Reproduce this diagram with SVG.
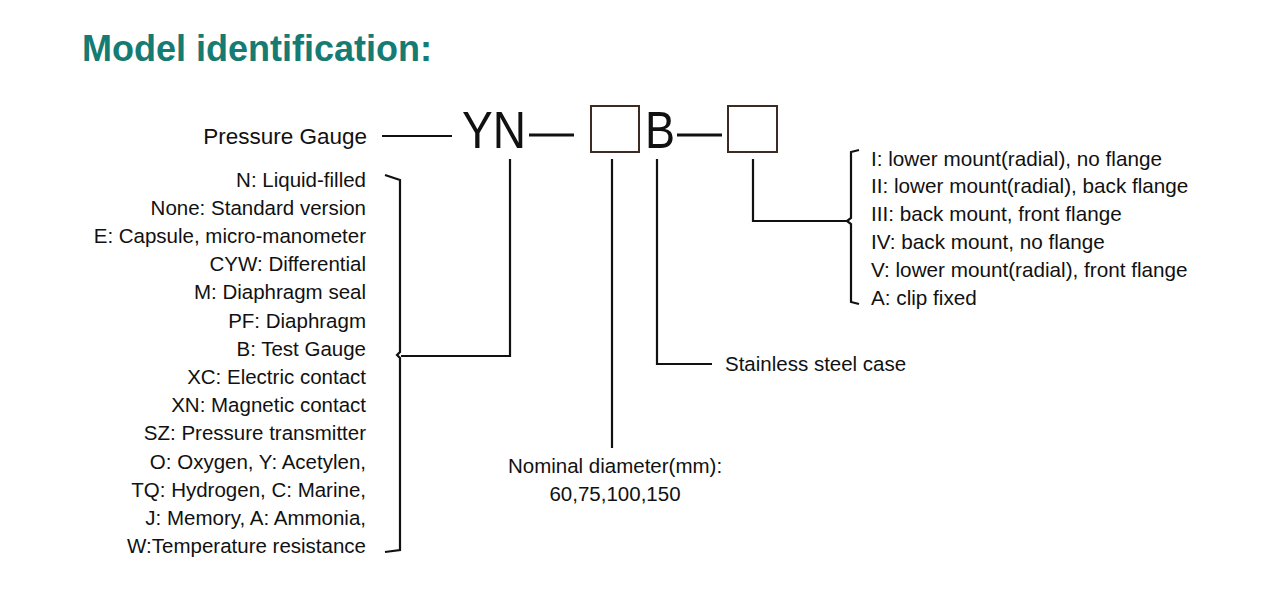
<svg xmlns="http://www.w3.org/2000/svg" width="1280" height="597" viewBox="0 0 1280 597">
<style>
.t{font-family:"Liberation Sans",Arial,sans-serif;font-size:20.5px;fill:#111}
.r{font-family:"Liberation Sans",Arial,sans-serif;font-size:20.7px;fill:#111}
.big{font-family:"Liberation Sans",Arial,sans-serif;font-size:52px;fill:#111}
.ln{fill:none;stroke:#111;stroke-width:2.2;stroke-linejoin:miter}
.box{fill:#fff;stroke:#3b2b22;stroke-width:2}
</style>
<rect width="1280" height="597" fill="#fff"/>
<text x="82" y="61" font-family="Liberation Sans,Arial,sans-serif" font-size="36" font-weight="bold" fill="#157b73">Model identification:</text>

<g id="code">
<text class="big" x="462" y="148" textLength="64" lengthAdjust="spacingAndGlyphs">YN</text>
<rect class="box" x="591" y="106" width="48" height="46"/>
<text class="big" x="645" y="148" textLength="30" lengthAdjust="spacingAndGlyphs">B</text>
<rect class="box" x="728" y="106" width="49" height="46"/>
<line x1="529" y1="135" x2="574" y2="135" stroke="#111" stroke-width="3"/>
<line x1="677" y1="135" x2="722" y2="135" stroke="#111" stroke-width="3"/>
</g>

<g id="pressure-gauge">
<text class="t" x="367" y="144" text-anchor="end" style="font-size:22.5px">Pressure Gauge</text>
</g>

<g id="type-list">
<text class="t" x="366" y="186.5" text-anchor="end">N: Liquid-filled</text>
<text class="t" x="366" y="214.7" text-anchor="end">None: Standard version</text>
<text class="t" x="366" y="242.9" text-anchor="end">E: Capsule, micro-manometer</text>
<text class="t" x="366" y="271.1" text-anchor="end">CYW: Differential</text>
<text class="t" x="366" y="299.3" text-anchor="end">M: Diaphragm seal</text>
<text class="t" x="366" y="327.5" text-anchor="end">PF: Diaphragm</text>
<text class="t" x="366" y="355.7" text-anchor="end">B: Test Gauge</text>
<text class="t" x="366" y="383.9" text-anchor="end">XC: Electric contact</text>
<text class="t" x="366" y="412.1" text-anchor="end">XN: Magnetic contact</text>
<text class="t" x="366" y="440.3" text-anchor="end">SZ: Pressure transmitter</text>
<text class="t" x="366" y="468.5" text-anchor="end">O: Oxygen, Y: Acetylen,</text>
<text class="t" x="366" y="496.7" text-anchor="end">TQ: Hydrogen, C: Marine,</text>
<text class="t" x="366" y="524.9" text-anchor="end">J: Memory, A: Ammonia,</text>
<text class="t" x="366" y="553.1" text-anchor="end">W:Temperature resistance</text>
</g>

<g id="mount-list">
<text class="r" x="871" y="165.5">I: lower mount(radial), no flange</text>
<text class="r" x="871" y="193.4">II: lower mount(radial), back flange</text>
<text class="r" x="871" y="221.3">III: back mount, front flange</text>
<text class="r" x="871" y="249.2">IV: back mount, no flange</text>
<text class="r" x="871" y="277.1">V: lower mount(radial), front flange</text>
<text class="r" x="871" y="305">A: clip fixed</text>
</g>

<g id="case">
<text class="t" x="725" y="371">Stainless steel case</text>
</g>

<g id="diameter">
<text class="t" x="615" y="473" text-anchor="middle">Nominal diameter(mm):</text>
<text class="t" x="615" y="501" text-anchor="middle">60,75,100,150</text>
</g>

<g id="connectors">
<line class="ln" x1="382" y1="136" x2="452" y2="136"/>
<path class="ln" d="M385,175 L400,180 L400,352 L397,355 L400,358 L400,550 L385,552"/>
<path class="ln" d="M510,159 L510,356 L401,356"/>
<line class="ln" x1="612" y1="159" x2="612" y2="448"/>
<path class="ln" d="M657,159 L657,364 L712,364"/>
<path class="ln" d="M753,159 L753,221 L848,221"/>
<path class="ln" d="M859,150 L851,152 L851,218 L847,221 L851,224 L851,302 L859,304"/>
</g>
</svg>
